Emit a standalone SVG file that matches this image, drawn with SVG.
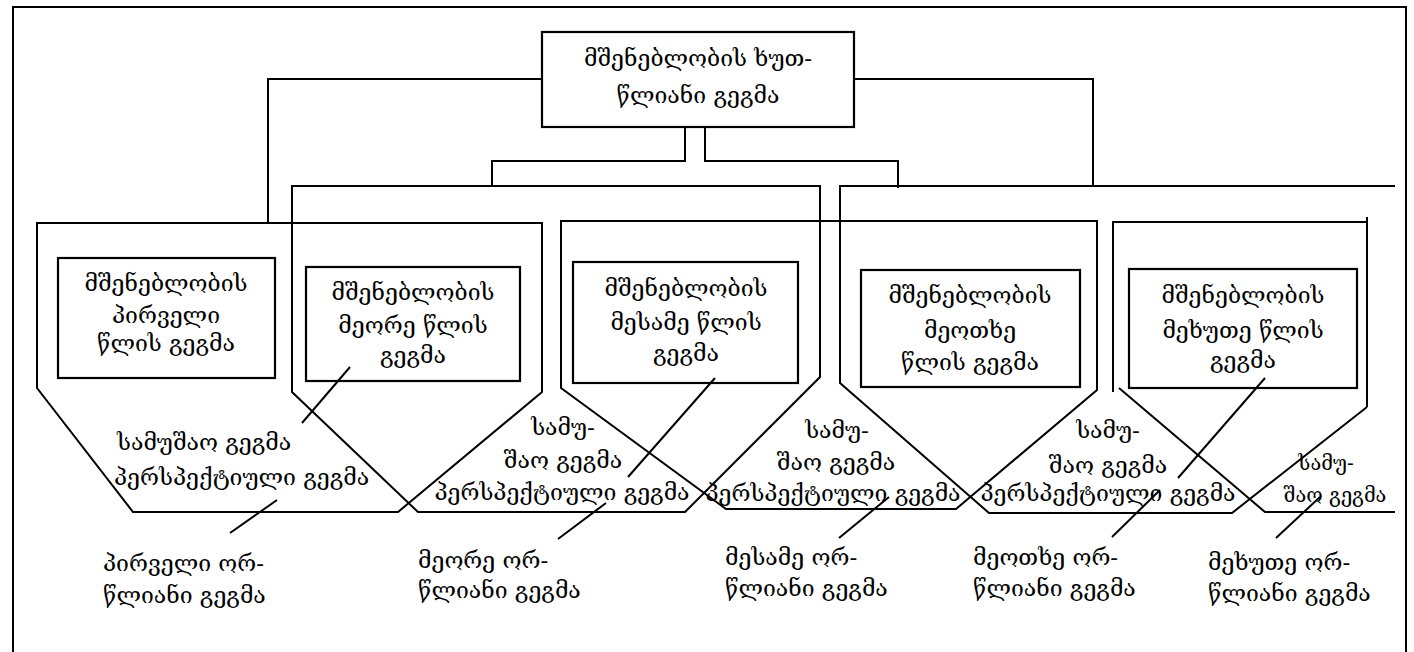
<svg xmlns="http://www.w3.org/2000/svg" width="1414" height="652" viewBox="0 0 1414 652">
<style>
.ln{fill:none;stroke:#000;stroke-width:2}
.bx{fill:none;stroke:#000;stroke-width:2.2}
.t{font-family:"DejaVu Serif","DejaVu Sans",serif;font-size:23px;fill:#000}
.c{text-anchor:middle}
</style>
<rect width="1414" height="652" fill="#fff"/>
<rect x="13" y="7" width="1393" height="660" class="ln"/>
<g id="top">
<rect x="542" y="32" width="312" height="95" class="bx"/>
<text class="t c" x="698" y="66">მშენებლობის ხუთ-</text>
<text class="t c" x="698" y="103">წლიანი გეგმა</text>
</g>
<g id="connectors">
<polyline class="ln" points="542,79 268,79 268,223"/>
<polyline class="ln" points="854,79 1093,79 1093,186"/>
<polyline class="ln" points="685,127 685,161 492,161 492,186"/>
<polyline class="ln" points="705,127 705,161 898,161 898,188"/>
<line class="ln" x1="350" y1="367" x2="302" y2="423"/>
<line class="ln" x1="277" y1="500" x2="230" y2="533"/>
<line class="ln" x1="715" y1="378" x2="628" y2="477"/>
<line class="ln" x1="606" y1="503" x2="558" y2="539"/>
<line class="ln" x1="889" y1="497" x2="839" y2="538"/>
<line class="ln" x1="1265" y1="378" x2="1178" y2="478"/>
<line class="ln" x1="1160" y1="490" x2="1112" y2="537"/>
<line class="ln" x1="1320" y1="497" x2="1276" y2="538"/>
</g>
<g id="hex1">
<polygon class="ln" points="37,223 542,223 542,392 398,512 133,512 37,388"/>
<rect x="58" y="258" width="217" height="120" class="bx"/>
<text class="t c" x="166" y="291">მშენებლობის</text>
<text class="t c" x="166" y="323">პირველი</text>
<text class="t c" x="166" y="351">წლის გეგმა</text>
<text class="t" x="117" y="450">სამუშაო გეგმა</text>
<text class="t" x="114" y="485">პერსპექტიული გეგმა</text>
</g>
<g id="hex2">
<polygon class="ln" points="292,186 820,186 820,377 685,512 418,512 292,392"/>
<rect x="306" y="267" width="214" height="114" class="bx"/>
<text class="t c" x="413" y="300">მშენებლობის</text>
<text class="t c" x="413" y="333">მეორე წლის</text>
<text class="t c" x="413" y="363">გეგმა</text>
<text class="t c" x="563" y="435">სამუ-</text>
<text class="t c" x="563" y="468">შაო გეგმა</text>
<text class="t c" x="562" y="500">პერსპექტიული გეგმა</text>
</g>
<g id="hex3">
<polygon class="ln" points="561,221 1097,221 1097,390 956,509 726,509 561,388"/>
<rect x="573" y="262" width="225" height="121" class="bx"/>
<text class="t c" x="686" y="296">მშენებლობის</text>
<text class="t c" x="686" y="330">მესამე წლის</text>
<text class="t c" x="686" y="361">გეგმა</text>
<text class="t c" x="837" y="438">სამუ-</text>
<text class="t c" x="836" y="470">შაო გეგმა</text>
<text class="t c" x="833" y="501">პერსპექტიული გეგმა</text>
</g>
<g id="hex4">
<polyline class="ln" points="1395,186 840,186 840,383 989,513 1232,513 1367,407"/>
<rect x="861" y="270" width="219" height="117" class="bx"/>
<text class="t c" x="970" y="303">მშენებლობის</text>
<text class="t c" x="970" y="338">მეოთხე</text>
<text class="t c" x="970" y="370">წლის გეგმა</text>
<text class="t c" x="1108" y="438">სამუ-</text>
<text class="t c" x="1108" y="473">შაო გეგმა</text>
<text class="t c" x="1108" y="501">პერსპექტიული გეგმა</text>
</g>
<g id="hex5">
<path class="ln" d="M1113,392 L1113,222 L1367,222 M1367,217 L1367,407 M1119,388 L1265,512 L1395,512"/>
<rect x="1129" y="269" width="228" height="119" class="bx"/>
<text class="t c" x="1243" y="303">მშენებლობის</text>
<text class="t c" x="1243" y="338">მეხუთე წლის</text>
<text class="t c" x="1243" y="368">გეგმა</text>
<text class="t c" x="1326" y="470" style="font-size:20px">სამუ-</text>
<text class="t c" x="1335" y="502" style="font-size:20px">შაო გეგმა</text>
</g>
<g id="labels">
<text class="t" x="103" y="571">პირველი ორ-</text>
<text class="t" x="103" y="603">წლიანი გეგმა</text>
<text class="t" x="418" y="568">მეორე ორ-</text>
<text class="t" x="418" y="598">წლიანი გეგმა</text>
<text class="t" x="725" y="565">მესამე ორ-</text>
<text class="t" x="725" y="596">წლიანი გეგმა</text>
<text class="t" x="973" y="565">მეოთხე ორ-</text>
<text class="t" x="973" y="596">წლიანი გეგმა</text>
<text class="t" x="1208" y="570">მეხუთე ორ-</text>
<text class="t" x="1208" y="601">წლიანი გეგმა</text>
</g>
</svg>
